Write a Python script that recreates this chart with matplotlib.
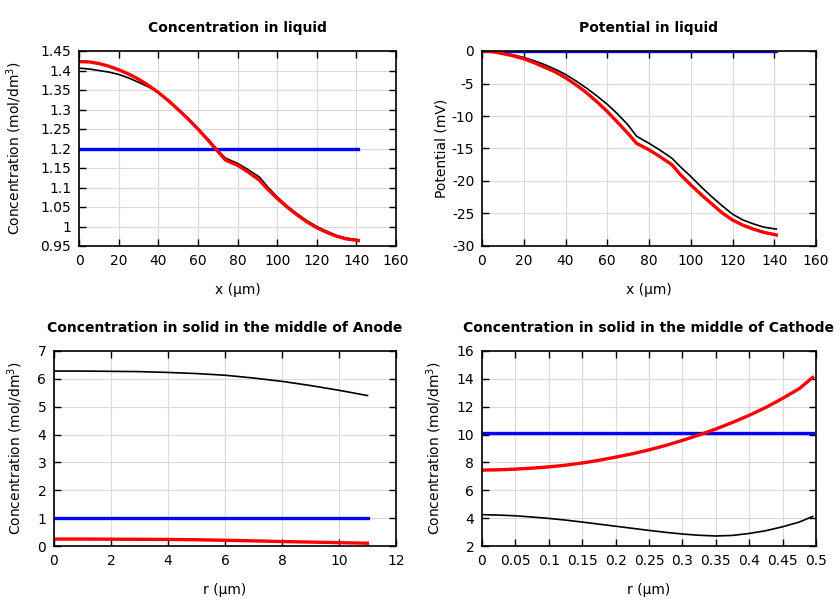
import numpy as np
import matplotlib
matplotlib.use("Agg")
import matplotlib.pyplot as plt

# liquid concentration vs x (um)
x_liq = [0, 5, 10, 15, 20, 25, 30, 35, 40, 45, 50, 55, 60, 65, 70, 74, 80, 85,
         91, 95, 100, 105, 110, 115, 120, 125, 130, 135, 141]
c_liq_black = [1.406, 1.404, 1.400, 1.396, 1.390, 1.381, 1.370, 1.358, 1.344, 1.325, 1.302, 1.278,
               1.252, 1.225, 1.196, 1.175, 1.162, 1.147, 1.127, 1.103, 1.076, 1.053, 1.033, 1.015,
               1.000, 0.988, 0.977, 0.970, 0.966]
c_liq_red = [1.423, 1.422, 1.418, 1.411, 1.402, 1.391, 1.378, 1.362, 1.344, 1.323, 1.300, 1.276,
             1.250, 1.222, 1.193, 1.170, 1.157, 1.141, 1.119, 1.097, 1.072, 1.050, 1.030, 1.012,
             0.997, 0.985, 0.975, 0.968, 0.964]
c_liq_blue = [1.2, 1.2]

# liquid potential vs x (um)
p_liq_black = [0.0, -0.1, -0.3, -0.6, -1.0, -1.5, -2.1, -2.8, -3.6, -4.6, -5.7, -6.9, -8.2, -9.7,
               -11.4, -13.1, -14.2, -15.2, -16.5, -17.8, -19.3, -20.9, -22.4, -23.8, -25.1, -26.0,
               -26.6, -27.1, -27.4]
p_liq_red = [0.0, -0.1, -0.4, -0.75, -1.2, -1.8, -2.5, -3.2, -4.1, -5.2, -6.4, -7.8, -9.3, -11.0,
             -12.7, -14.2, -15.2, -16.2, -17.5, -19.0, -20.6, -22.1, -23.5, -24.9, -26.0, -26.8,
             -27.4, -27.9, -28.3]
p_liq_blue = [0.0, 0.0]

# anode solid concentration vs r (um)
r_an = [0, 1, 2, 3, 4, 5, 6, 7, 8, 9, 10, 11]
c_an_black = [6.28, 6.28, 6.27, 6.26, 6.23, 6.19, 6.13, 6.03, 5.91, 5.76, 5.59, 5.40]
c_an_red = [0.25, 0.25, 0.245, 0.24, 0.235, 0.225, 0.205, 0.185, 0.16, 0.14, 0.12, 0.10]
c_an_blue = [1.0, 1.0]

# cathode solid concentration vs r (um)
r_ca = [0, 0.025, 0.05, 0.075, 0.1, 0.125, 0.15, 0.175, 0.2, 0.225, 0.25, 0.275, 0.3, 0.325,
        0.35, 0.375, 0.4, 0.425, 0.45, 0.475, 0.495]
c_ca_black = [4.25, 4.22, 4.17, 4.08, 3.98, 3.86, 3.72, 3.57, 3.42, 3.27, 3.12, 2.98, 2.86, 2.77,
              2.72, 2.76, 2.90, 3.10, 3.38, 3.72, 4.12]
c_ca_red = [7.45, 7.47, 7.52, 7.59, 7.68, 7.80, 7.96, 8.15, 8.38, 8.62, 8.90, 9.22, 9.58, 9.97,
            10.40, 10.87, 11.38, 11.95, 12.60, 13.30, 14.10]
c_ca_blue = [10.1, 10.1]

plt.rcParams['font.family'] = 'DejaVu Sans'
plt.rcParams['font.size'] = 10
plt.rcParams['axes.unicode_minus'] = False

fig = plt.figure(figsize=(8.4, 6), dpi=100)
W, H = 840.0, 600.0


def make_ax(x0, x1, y0, y1):
    return fig.add_axes([x0 / W, 1 - y1 / H, (x1 - x0) / W, (y1 - y0) / H])


def style(ax, title, xlabel, ylabel, ypad):
    ax.set_title(title, fontweight='bold', fontsize=10, pad=14)
    ax.set_xlabel(xlabel, labelpad=11)
    ax.set_ylabel(ylabel, labelpad=ypad)
    ax.grid(True, color='#dadada', linewidth=0.8)
    ax.set_axisbelow(True)
    ax.tick_params(direction='in', top=True, right=True, length=5, width=1, labelsize=10, pad=5.5)
    for s in ax.spines.values():
        s.set_linewidth(1.2)


def draw(ax, x, black, red, blue):
    ax.plot(x, black, color='black', lw=1.2)
    ax.plot([x[0], x[-1]], blue, color='#0000ff', lw=2.4)
    ax.plot(x, red, color='#ff0000', lw=2.4)


ylab = 'Concentration (mol/dm$^3$)'

ax1 = make_ax(79, 396, 51, 246)
draw(ax1, x_liq, c_liq_black, c_liq_red, c_liq_blue)
ax1.set_xlim(0, 160)
ax1.set_ylim(0.95, 1.45)
ax1.set_xticks(np.arange(0, 161, 20))
ax1.set_yticks(np.arange(0.95, 1.451, 0.05))
ax1.set_yticklabels(['0.95', '1', '1.05', '1.1', '1.15', '1.2', '1.25', '1.3', '1.35', '1.4', '1.45'])
style(ax1, 'Concentration in liquid', 'x (µm)', ylab, 12)

ax2 = make_ax(482, 816, 51, 246)
draw(ax2, x_liq, p_liq_black, p_liq_red, p_liq_blue)
ax2.set_xlim(0, 160)
ax2.set_ylim(-30, 0)
ax2.set_xticks(np.arange(0, 161, 20))
ax2.set_yticks(np.arange(-30, 1, 5))
style(ax2, 'Potential in liquid', 'x (µm)', 'Potential (mV)', 2.5)

ax3 = make_ax(54, 396, 351, 546)
draw(ax3, r_an, c_an_black, c_an_red, c_an_blue)
ax3.set_xlim(0, 12)
ax3.set_ylim(0, 7)
ax3.set_xticks(np.arange(0, 13, 2))
style(ax3, 'Concentration in solid in the middle of Anode', 'r (µm)', ylab, 9)

ax4 = make_ax(482, 816, 351, 546)
draw(ax4, r_ca, c_ca_black, c_ca_red, c_ca_blue)
ax4.set_xlim(0, 0.5)
ax4.set_ylim(2, 16)
ax4.set_xticks(np.arange(0, 0.501, 0.05))
ax4.set_xticklabels(['0', '0.05', '0.1', '0.15', '0.2', '0.25', '0.3', '0.35', '0.4', '0.45', '0.5'])
ax4.set_yticks(np.arange(2, 17, 2))
style(ax4, 'Concentration in solid in the middle of Cathode', 'r (µm)', ylab, 9)

fig.savefig('out.png', dpi=100)
